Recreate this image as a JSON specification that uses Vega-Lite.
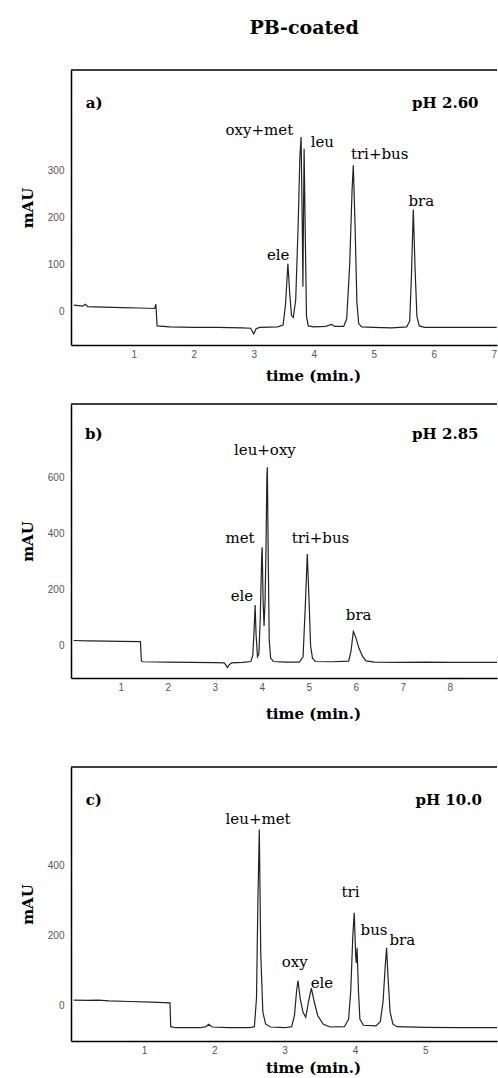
{
  "$schema": "https://vega.github.io/schema/vega-lite/v6.json",
  "padding": {"left": 20, "top": 19, "right": 0, "bottom": 0},
  "autosize": {"type": "pad"},
  "background": "white",
  "title": {"text": "PB-coated", "font": "DejaVu Serif", "fontSize": 19, "fontWeight": "bold", "color": "black", "offset": 31, "anchor": "middle", "dx": 45},
  "spacing": 20,
  "datasets": {
    "a": [
      {"t": 0, "v": 14}, {"t": 0.08, "v": 13}, {"t": 0.15, "v": 12}, {"t": 0.2, "v": 16}, {"t": 0.23, "v": 11}, {"t": 0.5, "v": 10}, {"t": 0.8, "v": 9}, {"t": 1.1, "v": 8}, {"t": 1.35, "v": 7}, {"t": 1.37, "v": 16}, {"t": 1.39, "v": -30}, {"t": 1.6, "v": -32}, {"t": 2.0, "v": -33}, {"t": 2.4, "v": -33}, {"t": 2.8, "v": -34}, {"t": 2.95, "v": -35}, {"t": 3.0, "v": -47}, {"t": 3.04, "v": -36}, {"t": 3.1, "v": -33}, {"t": 3.4, "v": -32}, {"t": 3.49, "v": -28}, {"t": 3.53, "v": 15}, {"t": 3.57, "v": 102}, {"t": 3.6, "v": 40}, {"t": 3.63, "v": -8}, {"t": 3.66, "v": -12}, {"t": 3.7, "v": 25}, {"t": 3.74, "v": 180}, {"t": 3.77, "v": 330}, {"t": 3.79, "v": 371}, {"t": 3.81, "v": 180}, {"t": 3.82, "v": 53}, {"t": 3.83, "v": 200}, {"t": 3.84, "v": 346}, {"t": 3.86, "v": 160}, {"t": 3.88, "v": -10}, {"t": 3.91, "v": -30}, {"t": 4.0, "v": -32}, {"t": 4.2, "v": -31}, {"t": 4.3, "v": -27}, {"t": 4.35, "v": -31}, {"t": 4.5, "v": -31}, {"t": 4.55, "v": -15}, {"t": 4.6, "v": 100}, {"t": 4.64, "v": 260}, {"t": 4.66, "v": 311}, {"t": 4.69, "v": 180}, {"t": 4.72, "v": 20}, {"t": 4.75, "v": -25}, {"t": 4.8, "v": -32}, {"t": 5.0, "v": -33}, {"t": 5.3, "v": -34}, {"t": 5.55, "v": -32}, {"t": 5.6, "v": -20}, {"t": 5.63, "v": 80}, {"t": 5.66, "v": 217}, {"t": 5.69, "v": 90}, {"t": 5.72, "v": -10}, {"t": 5.76, "v": -30}, {"t": 5.85, "v": -33}, {"t": 6.2, "v": -33}, {"t": 6.6, "v": -33}, {"t": 7.05, "v": -33}
    ],
    "b": [
      {"t": 0, "v": 18}, {"t": 0.3, "v": 17}, {"t": 0.7, "v": 16}, {"t": 1.0, "v": 15}, {"t": 1.42, "v": 14}, {"t": 1.44, "v": -55}, {"t": 1.47, "v": -58}, {"t": 2.0, "v": -59}, {"t": 2.5, "v": -60}, {"t": 3.0, "v": -61}, {"t": 3.2, "v": -62}, {"t": 3.24, "v": -70}, {"t": 3.27, "v": -79}, {"t": 3.31, "v": -68}, {"t": 3.36, "v": -62}, {"t": 3.6, "v": -60}, {"t": 3.77, "v": -57}, {"t": 3.81, "v": -35}, {"t": 3.84, "v": 60}, {"t": 3.86, "v": 145}, {"t": 3.88, "v": 40}, {"t": 3.91, "v": -40}, {"t": 3.94, "v": -30}, {"t": 3.97, "v": 100}, {"t": 4.0, "v": 320}, {"t": 4.01, "v": 351}, {"t": 4.03, "v": 160}, {"t": 4.05, "v": 70}, {"t": 4.07, "v": 150}, {"t": 4.09, "v": 330}, {"t": 4.11, "v": 600}, {"t": 4.12, "v": 637}, {"t": 4.14, "v": 300}, {"t": 4.16, "v": 20}, {"t": 4.19, "v": -45}, {"t": 4.25, "v": -57}, {"t": 4.5, "v": -59}, {"t": 4.8, "v": -59}, {"t": 4.88, "v": -40}, {"t": 4.93, "v": 150}, {"t": 4.97, "v": 327}, {"t": 5.01, "v": 150}, {"t": 5.04, "v": 0}, {"t": 5.08, "v": -45}, {"t": 5.14, "v": -57}, {"t": 5.5, "v": -58}, {"t": 5.85, "v": -56}, {"t": 5.9, "v": -20}, {"t": 5.95, "v": 50}, {"t": 6.0, "v": 30}, {"t": 6.07, "v": -10}, {"t": 6.15, "v": -40}, {"t": 6.22, "v": -55}, {"t": 6.4, "v": -59}, {"t": 7.0, "v": -60}, {"t": 7.5, "v": -59}, {"t": 8.0, "v": -60}, {"t": 8.5, "v": -60}, {"t": 9.05, "v": -60}
    ],
    "c": [
      {"t": 0, "v": 14}, {"t": 0.2, "v": 13}, {"t": 0.35, "v": 14}, {"t": 0.5, "v": 12}, {"t": 0.8, "v": 10}, {"t": 1.1, "v": 8}, {"t": 1.37, "v": 6}, {"t": 1.38, "v": -62}, {"t": 1.45, "v": -65}, {"t": 1.8, "v": -65}, {"t": 1.88, "v": -62}, {"t": 1.92, "v": -55}, {"t": 1.97, "v": -63}, {"t": 2.2, "v": -65}, {"t": 2.5, "v": -65}, {"t": 2.57, "v": -62}, {"t": 2.6, "v": 20}, {"t": 2.62, "v": 300}, {"t": 2.64, "v": 502}, {"t": 2.66, "v": 150}, {"t": 2.69, "v": -20}, {"t": 2.73, "v": -55}, {"t": 2.8, "v": -63}, {"t": 3.0, "v": -65}, {"t": 3.1, "v": -62}, {"t": 3.14, "v": -30}, {"t": 3.17, "v": 40}, {"t": 3.19, "v": 70}, {"t": 3.22, "v": 20}, {"t": 3.26, "v": -20}, {"t": 3.3, "v": -35}, {"t": 3.34, "v": 10}, {"t": 3.38, "v": 48}, {"t": 3.42, "v": 10}, {"t": 3.47, "v": -30}, {"t": 3.55, "v": -55}, {"t": 3.65, "v": -63}, {"t": 3.85, "v": -62}, {"t": 3.91, "v": -40}, {"t": 3.94, "v": 40}, {"t": 3.97, "v": 200}, {"t": 3.99, "v": 264}, {"t": 4.01, "v": 140}, {"t": 4.02, "v": 120}, {"t": 4.03, "v": 164}, {"t": 4.05, "v": 40}, {"t": 4.07, "v": -40}, {"t": 4.12, "v": -58}, {"t": 4.3, "v": -60}, {"t": 4.36, "v": -48}, {"t": 4.4, "v": 10}, {"t": 4.43, "v": 110}, {"t": 4.45, "v": 164}, {"t": 4.47, "v": 80}, {"t": 4.5, "v": -20}, {"t": 4.54, "v": -55}, {"t": 4.6, "v": -62}, {"t": 5.0, "v": -64}, {"t": 5.5, "v": -65}, {"t": 6.05, "v": -65}
    ],
    "la": [
      {"label": "a)", "kind": "head", "t": 0.2, "v": 442},
      {"label": "pH 2.60", "kind": "head", "t": 5.64, "v": 442},
      {"label": "oxy+met", "kind": "peak", "t": 2.53, "v": 385},
      {"label": "leu", "kind": "peak", "t": 3.95, "v": 360},
      {"label": "tri+bus", "kind": "peak", "t": 4.62, "v": 334},
      {"label": "bra", "kind": "peak", "t": 5.58, "v": 235},
      {"label": "ele", "kind": "peak", "t": 3.22, "v": 120}
    ],
    "lb": [
      {"label": "b)", "kind": "head", "t": 0.24, "v": 756},
      {"label": "pH 2.85", "kind": "head", "t": 7.2, "v": 756},
      {"label": "leu+oxy", "kind": "peak", "t": 3.41, "v": 697},
      {"label": "met", "kind": "peak", "t": 3.23, "v": 385},
      {"label": "tri+bus", "kind": "peak", "t": 4.64, "v": 385},
      {"label": "ele", "kind": "peak", "t": 3.34, "v": 176},
      {"label": "bra", "kind": "peak", "t": 5.79, "v": 110}
    ],
    "lc": [
      {"label": "c)", "kind": "head", "t": 0.17, "v": 588},
      {"label": "pH 10.0", "kind": "head", "t": 4.86, "v": 588},
      {"label": "leu+met", "kind": "peak", "t": 2.16, "v": 531},
      {"label": "tri", "kind": "peak", "t": 3.81, "v": 324},
      {"label": "bus", "kind": "peak", "t": 4.08, "v": 216},
      {"label": "bra", "kind": "peak", "t": 4.49, "v": 185},
      {"label": "oxy", "kind": "peak", "t": 2.96, "v": 124},
      {"label": "ele", "kind": "peak", "t": 3.37, "v": 64}
    ],
    "frame": [{"edge": "top"}]
  },
  "vconcat": [
    {
      "width": 426, "height": 275,
      "layer": [
        {
          "data": {"name": "a"},
          "mark": {"type": "line", "color": "#222", "strokeWidth": 1.2, "clip": true},
          "encoding": {
            "x": {"field": "t", "type": "quantitative", "title": "time (min.)", "scale": {"domain": [-0.045, 7.055], "nice": false, "zero": false}, "axis": {"values": [1, 2, 3, 4, 5, 6, 7], "titlePadding": 9}},
            "y": {"field": "v", "type": "quantitative", "title": "mAU", "scale": {"domain": [-70.5, 513], "nice": false, "zero": false}, "axis": {"values": [0, 100, 200, 300]}}
          }
        },
        {
          "data": {"name": "la"},
          "transform": [{"filter": "datum.kind == 'peak'"}],
          "mark": {"type": "text", "align": "left", "baseline": "middle", "font": "DejaVu Serif", "fontSize": 15, "color": "black"},
          "encoding": {"x": {"field": "t", "type": "quantitative"}, "y": {"field": "v", "type": "quantitative"}, "text": {"field": "label"}}
        },
        {
          "data": {"name": "la"},
          "transform": [{"filter": "datum.kind == 'head'"}],
          "mark": {"type": "text", "align": "left", "baseline": "middle", "font": "DejaVu Serif", "fontSize": 15, "fontWeight": "bold", "color": "black"},
          "encoding": {"x": {"field": "t", "type": "quantitative"}, "y": {"field": "v", "type": "quantitative"}, "text": {"field": "label"}}
        },
        {
          "data": {"name": "frame"},
          "mark": {"type": "rule", "color": "black", "strokeWidth": 1.5},
          "encoding": {"y": {"datum": 513}}
        }
      ]
    },
    {
      "width": 426, "height": 274,
      "layer": [
        {
          "data": {"name": "b"},
          "mark": {"type": "line", "color": "#222", "strokeWidth": 1.2, "clip": true},
          "encoding": {
            "x": {"field": "t", "type": "quantitative", "title": "time (min.)", "scale": {"domain": [-0.057, 9.006], "nice": false, "zero": false}, "axis": {"values": [1, 2, 3, 4, 5, 6, 7, 8], "titlePadding": 14}},
            "y": {"field": "v", "type": "quantitative", "title": "mAU", "scale": {"domain": [-116, 863], "nice": false, "zero": false}, "axis": {"values": [0, 200, 400, 600]}}
          }
        },
        {
          "data": {"name": "lb"},
          "transform": [{"filter": "datum.kind == 'peak'"}],
          "mark": {"type": "text", "align": "left", "baseline": "middle", "font": "DejaVu Serif", "fontSize": 15, "color": "black"},
          "encoding": {"x": {"field": "t", "type": "quantitative"}, "y": {"field": "v", "type": "quantitative"}, "text": {"field": "label"}}
        },
        {
          "data": {"name": "lb"},
          "transform": [{"filter": "datum.kind == 'head'"}],
          "mark": {"type": "text", "align": "left", "baseline": "middle", "font": "DejaVu Serif", "fontSize": 15, "fontWeight": "bold", "color": "black"},
          "encoding": {"x": {"field": "t", "type": "quantitative"}, "y": {"field": "v", "type": "quantitative"}, "text": {"field": "label"}}
        },
        {
          "data": {"name": "frame"},
          "mark": {"type": "rule", "color": "black", "strokeWidth": 1.5},
          "encoding": {"y": {"datum": 863}}
        }
      ]
    },
    {
      "width": 426, "height": 274,
      "title": {"text": " ", "fontSize": 15, "offset": 10},
      "layer": [
        {
          "data": {"name": "c"},
          "mark": {"type": "line", "color": "#222", "strokeWidth": 1.2, "clip": true},
          "encoding": {
            "x": {"field": "t", "type": "quantitative", "title": "time (min.)", "scale": {"domain": [-0.038, 6.02], "nice": false, "zero": false}, "axis": {"values": [1, 2, 3, 4, 5], "titlePadding": 5}},
            "y": {"field": "v", "type": "quantitative", "title": "mAU", "scale": {"domain": [-103, 681], "nice": false, "zero": false}, "axis": {"values": [0, 200, 400]}}
          }
        },
        {
          "data": {"name": "lc"},
          "transform": [{"filter": "datum.kind == 'peak'"}],
          "mark": {"type": "text", "align": "left", "baseline": "middle", "font": "DejaVu Serif", "fontSize": 15, "color": "black"},
          "encoding": {"x": {"field": "t", "type": "quantitative"}, "y": {"field": "v", "type": "quantitative"}, "text": {"field": "label"}}
        },
        {
          "data": {"name": "lc"},
          "transform": [{"filter": "datum.kind == 'head'"}],
          "mark": {"type": "text", "align": "left", "baseline": "middle", "font": "DejaVu Serif", "fontSize": 15, "fontWeight": "bold", "color": "black"},
          "encoding": {"x": {"field": "t", "type": "quantitative"}, "y": {"field": "v", "type": "quantitative"}, "text": {"field": "label"}}
        },
        {
          "data": {"name": "frame"},
          "mark": {"type": "rule", "color": "black", "strokeWidth": 1.5},
          "encoding": {"y": {"datum": 681}}
        }
      ]
    }
  ],
  "config": {
    "view": {"stroke": null},
    "axis": {
      "grid": false, "ticks": false, "tickSize": 0,
      "labelFont": "Liberation Sans", "labelFontSize": 10, "labelColor": "#555",
      "domainColor": "black", "domainWidth": 1.5,
      "titleFont": "DejaVu Serif", "titleFontWeight": "bold", "titleFontSize": 15, "titleColor": "black",
      "format": "d"
    },
    "axisX": {"labelPadding": 4, "titleX": 242, "labelFlush": false},
    "axisY": {"labelPadding": 7, "titlePadding": 12}
  }
}
